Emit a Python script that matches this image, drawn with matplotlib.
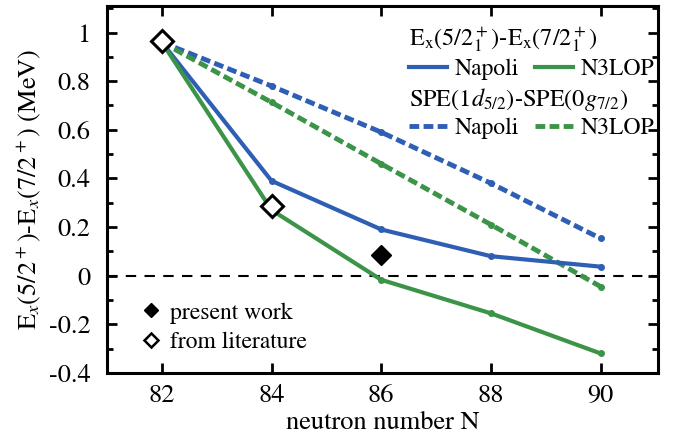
import matplotlib
matplotlib.use("Agg")
import matplotlib.pyplot as plt
from matplotlib.lines import Line2D
from matplotlib.ticker import MultipleLocator

plt.rcParams['font.family'] = ['STIXGeneral', 'Liberation Serif', 'DejaVu Serif']
plt.rcParams['mathtext.fontset'] = 'stix'
plt.rcParams['font.size'] = 19

# data
N = [82, 84, 86, 88, 90]
napoli_ex = [0.96, 0.39, 0.19, 0.08, 0.037]
n3lop_ex = [0.96, 0.27, -0.017, -0.155, -0.32]
napoli_spe = [0.96, 0.78, 0.59, 0.38, 0.153]
n3lop_spe = [0.96, 0.713, 0.46, 0.21, -0.045]
present_N = [86]
present_val = [0.087]
lit_N = [82, 84]
lit_val = [0.965, 0.285]

blue = '#2e5fb4'
green = '#3b9447'
dash = (0, (2, 0.9))

fig = plt.figure(figsize=(6.73, 4.45), dpi=100)
ax = fig.add_axes([0.159, 0.162, 0.819, 0.825])

ax.axhline(0, color='black', lw=1.5, ls=(0, (5, 4)), zorder=1)

ax.plot(N, napoli_spe, color=blue, lw=3.5, ls=dash, marker='o', ms=4)
ax.plot(N, n3lop_spe, color=green, lw=3.5, ls=dash, marker='o', ms=4)
ax.plot(N, napoli_ex, color=blue, lw=3, marker='o', ms=4)
ax.plot(N, n3lop_ex, color=green, lw=3, marker='o', ms=4)

ax.plot(present_N, present_val, ls='none', marker='D', ms=10, color='black', zorder=5)
ax.plot(lit_N, lit_val, ls='none', marker='D', ms=11, mfc='white', mec='black', mew=2.2, zorder=5)

ax.set_xlim(81, 91.05)
ax.set_ylim(-0.4, 1.11)
ax.set_xticks(N)
ax.set_yticks([-0.4, -0.2, 0, 0.2, 0.4, 0.6, 0.8, 1])
ax.set_yticklabels(['-0.4', '-0.2', '0', '0.2', '0.4', '0.6', '0.8', '1'])
ax.yaxis.set_minor_locator(MultipleLocator(0.1))
ax.tick_params(which='both', direction='in', top=True, right=True, width=2)
ax.tick_params(which='major', length=7)
ax.tick_params(axis='x', which='major', pad=8)
ax.tick_params(axis='y', which='major', pad=12)
ax.tick_params(which='minor', length=4)
for s in ax.spines.values():
    s.set_linewidth(2.2)

ax.set_xlabel('neutron number N', labelpad=2)
ax.set_ylabel('E$_x$(5/2$^+$)-E$_x$(7/2$^+$) (MeV)', labelpad=4)

# legends
h_solid = [Line2D([], [], color=blue, lw=3), Line2D([], [], color=green, lw=3)]
h_dash = [Line2D([], [], color=blue, lw=3.5, ls=dash),
          Line2D([], [], color=green, lw=3.5, ls=dash)]
names = ['Napoli', 'N3LOP']
leg_kw = dict(ncol=2, loc='upper left', frameon=False, handlelength=1.6,
              handletextpad=0.35, columnspacing=0.65, borderaxespad=0.0,
              borderpad=0.0, labelspacing=0.2, fontsize=17, title_fontsize=17.5)
leg1 = ax.legend(h_solid, names, title='E$_\\mathrm{x}$(5/2$_1^+$)-E$_\\mathrm{x}$(7/2$_1^+$)',
                 bbox_to_anchor=(0.548, 0.948), **leg_kw)
leg1._legend_box.align = 'left'
ax.add_artist(leg1)
leg2 = ax.legend(h_dash, names, title='SPE(1$d_{5/2}$)-SPE(0$g_{7/2}$)',
                 bbox_to_anchor=(0.548, 0.782), **leg_kw)
leg2._legend_box.align = 'left'
ax.add_artist(leg2)

h_exp = [Line2D([], [], ls='none', marker='D', ms=7, color='black'),
         Line2D([], [], ls='none', marker='D', ms=7, mfc='white', mec='black', mew=1.8)]
ax.legend(h_exp, ['present work', 'from literature'], loc='lower left',
          bbox_to_anchor=(0.025, -0.005), frameon=False, handlelength=0.8,
          handletextpad=0.4, labelspacing=0.35, fontsize=17)

fig.savefig('out.png', dpi=100)
